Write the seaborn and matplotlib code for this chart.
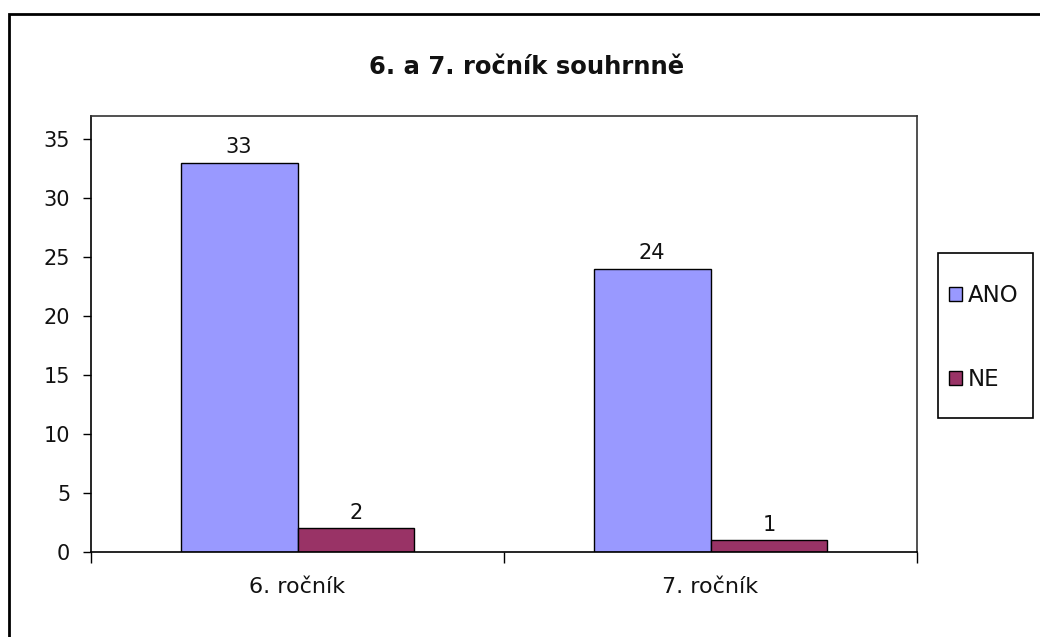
import matplotlib
matplotlib.use("Agg")
import matplotlib.pyplot as plt
import seaborn as sns
import pandas as pd
from matplotlib.patches import Rectangle, Patch

categories = ["6. ročník", "7. ročník"]
series = ["ANO", "NE"]
ano_values = [33, 24]
ne_values = [2, 1]
colors = ["#9999FF", "#993366"]
title = "6. a 7. ročník souhrnně"

df = pd.DataFrame({
    "cat": categories * 2,
    "series": [series[0]] * 2 + [series[1]] * 2,
    "value": ano_values + ne_values,
})

sns.set_theme(style="white")
plt.rcParams['font.family'] = ['DejaVu Sans']

fig = plt.figure(figsize=(10.4, 6.37), dpi=100)
fig.patch.set_facecolor("white")
ax = fig.add_axes([91/1040, 1-552/637, (917-91)/1040, (552-116)/637])

sns.barplot(data=df, x="cat", y="value", hue="series", palette=colors,
            width=0.566, gap=0, edgecolor="black", linewidth=1.0,
            saturation=1, legend=False, ax=ax)

for cont in ax.containers:
    ax.bar_label(cont, padding=4, fontsize=15, color="#111111")

ax.set_xlim(-0.5, 1.5)
ax.set_ylim(0, 36.95)
ax.set_yticks(range(0, 36, 5))
ax.set_xlabel("")
ax.set_ylabel("")
ax.tick_params(axis="y", labelsize=15, labelcolor="#111111", length=6, width=1, color="black", direction="out", left=True, pad=9)
ax.tick_params(axis="x", which="major", length=0, labelsize=16, labelcolor="#111111", pad=18)
ax.set_xticks([-0.5, 0.5, 1.5], minor=True)
ax.tick_params(axis="x", which="minor", length=8, width=1, color="black", direction="out", bottom=True)
for s in ["left", "bottom"]:
    ax.spines[s].set_color("black")
    ax.spines[s].set_linewidth(1.2)
for s in ["top", "right"]:
    ax.spines[s].set_color("#333333")
    ax.spines[s].set_linewidth(1.2)

fig.text(527/1040, 1-67/637, title, ha="center", va="center", fontsize=17.5, fontweight="bold", color="#111111")

# legend box
fig.patches.append(Rectangle((938/1040, 1-418/637), 95/1040, 165/637, transform=fig.transFigure,
                             facecolor="white", edgecolor="black", linewidth=1.2, zorder=1))
handles = [Patch(facecolor=c, edgecolor="black", linewidth=1) for c in colors]
leg = fig.legend(handles, series, loc="upper left",
                 bbox_to_anchor=(949/1040, 1-284/637),
                 fontsize=16.5, frameon=False, handlelength=0.55, handleheight=0.55,
                 handletextpad=0.25, labelspacing=2.65, borderpad=0, borderaxespad=0)
leg.set_zorder(5)
for t in leg.get_texts():
    t.set_color("#111111")

fig.patches.append(Rectangle((9/1040, -0.05), 1.1, 1-14/637+0.05, transform=fig.transFigure,
                             fill=False, edgecolor="black", linewidth=2, zorder=0))

fig.savefig("out.png", dpi=100)
